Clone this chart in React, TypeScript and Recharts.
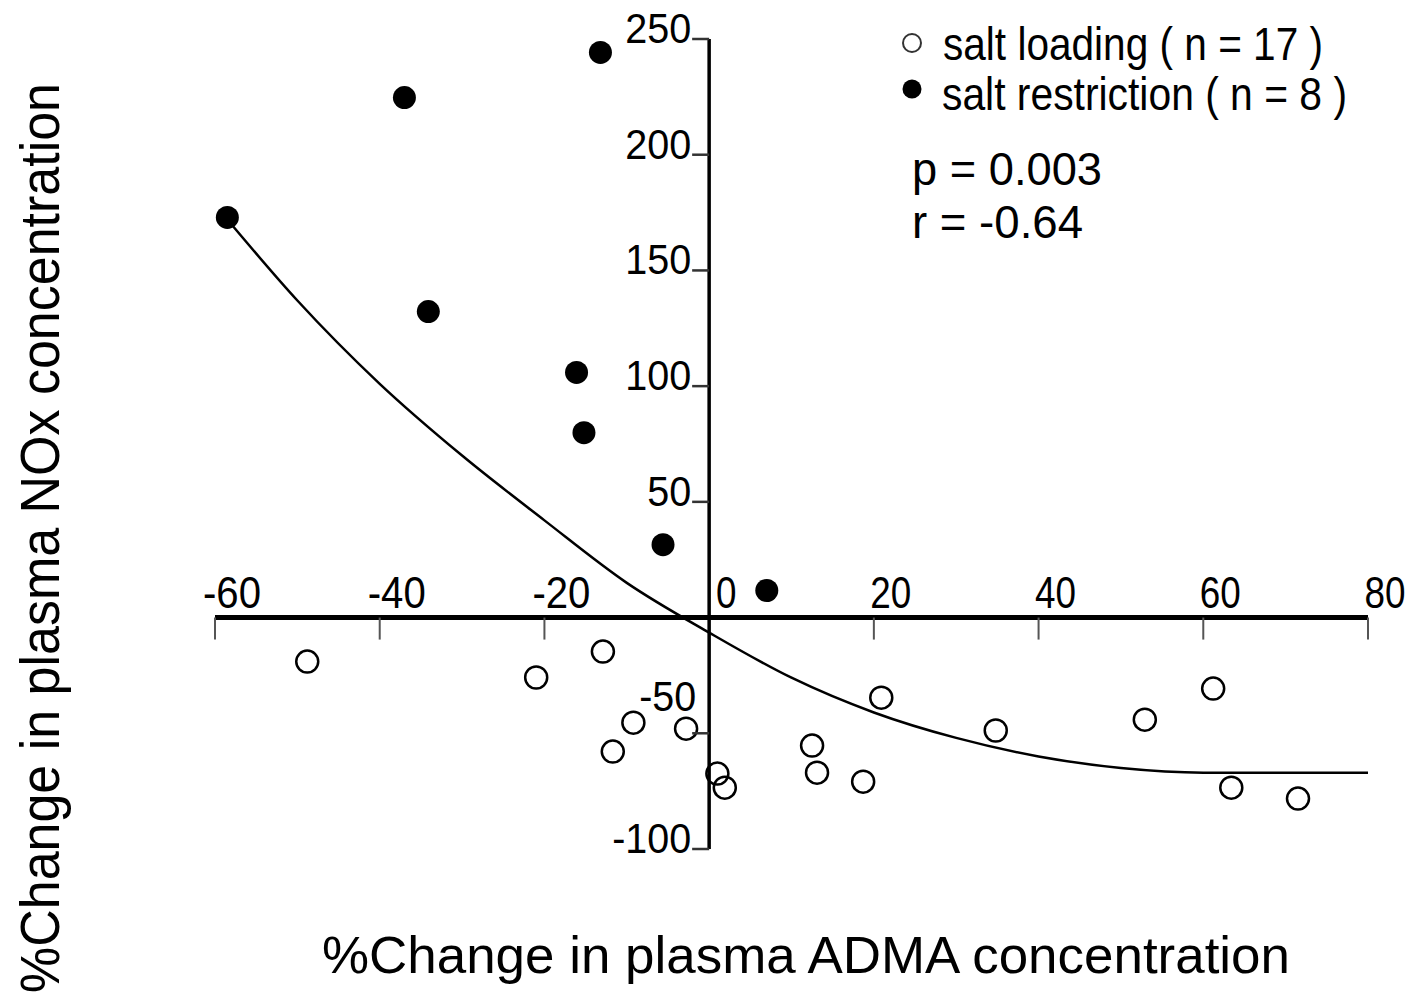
import { ComposedChart, Customized, Line, ReferenceLine, Scatter, XAxis, YAxis } from "recharts";

// salt loading (open circles)
const loadingX = [-48.8, -21.0, -12.9, -9.2, -11.7, -2.8, 1.0, 1.9, 12.5, 13.1, 18.7, 20.9, 34.8, 52.9, 61.2, 63.4, 71.5];
const loadingY = [-19.0, -25.9, -14.7, -45.4, -57.9, -48.0, -67.4, -73.5, -55.3, -67.0, -70.9, -34.6, -48.8, -44.1, -30.7, -73.5, -78.2];

// salt restriction (filled circles)
const restrictionX = [-58.5, -37.0, -13.2, -34.1, -16.1, -15.2, -5.6, 7.0];
const restrictionY = [172.9, 224.7, 244.2, 132.2, 105.9, 79.9, 31.5, 11.7];

// fitted curve
const fitX = [-58.5, -50, -40, -30, -20, -10, 0, 10, 20, 30, 40, 50, 60, 70, 80];
const fitY = [172, 137, 101, 70, 42, 15, -6.5, -26, -41, -52, -60, -65, -67, -67, -67];

const xTicks = [-60, -40, -20, 0, 20, 40, 60, 80];
const yTicks = [-100, -50, 50, 100, 150, 200, 250];

const legendLabels = ["salt loading ( n = 17 )", "salt restriction ( n = 8 )"];
const statLabels = ["p = 0.003", "r = -0.64"];
const xTitle = "%Change in plasma ADMA concentration";
const yTitle = "%Change in plasma NOx concentration";

const loadingData = loadingX.map((x, i) => ({ x, y: loadingY[i] }));
const restrictionData = restrictionX.map((x, i) => ({ x, y: restrictionY[i] }));
const fitData = fitX.map((x, i) => ({ x, y: fitY[i] }));

const W = 1414;
const H = 1006;
// axes get 1px each (a 0px axis is not drawn at all)
const M = { top: 39, right: 46, bottom: 156, left: 214 };
const PLOT_L = M.left + 1;
const PW = W - PLOT_L - M.right;
const PH = H - M.top - M.bottom - 1;
const zeroX = PLOT_L + (PW * 60) / 140;
const zeroY = M.top + (PH * 250) / 350;

const FONT = "'Liberation Sans', Arial, Helvetica, sans-serif";

// rough width of a tick label, used to squeeze the glyphs like the scan
function labelWidth(s: string, digit: number, minus: number) {
  let w = 0;
  for (const c of s) w += c === "-" ? minus : digit;
  return w;
}

function XTick(props: any) {
  const { x, payload } = props;
  const v = payload.value as number;
  const s = String(v);
  return (
    <g>
      {v !== 0 && <line x1={x} x2={x} y1={zeroY} y2={zeroY + 22} stroke="#555" strokeWidth={2} />}
      <text
        x={x + 17}
        y={zeroY - 10}
        textAnchor="middle"
        fontFamily={FONT}
        fontSize={44}
        fill="#000"
        textLength={labelWidth(s, 20.5, 17)}
        lengthAdjust="spacingAndGlyphs"
      >
        {s}
      </text>
    </g>
  );
}

function YTick(props: any) {
  const { y, payload } = props;
  const v = payload.value as number;
  const s = String(v);
  const lifted = v === -50;
  return (
    <g>
      <line x1={zeroX - 17} x2={zeroX} y1={y} y2={y} stroke="#333" strokeWidth={2.5} />
      <text
        x={lifted ? zeroX - 13 : zeroX - 18}
        y={lifted ? y - 22 : y + 4}
        textAnchor="end"
        fontFamily={FONT}
        fontSize={43}
        fill="#000"
        textLength={labelWidth(s, 22, 13)}
        lengthAdjust="spacingAndGlyphs"
      >
        {s}
      </text>
    </g>
  );
}

const openDot = (p: any) => <circle cx={p.cx} cy={p.cy} r={11} fill="none" stroke="#000" strokeWidth={2.5} />;
const filledDot = (p: any) => <circle cx={p.cx} cy={p.cy} r={11.5} fill="#000" />;

function Annotations() {
  return (
    <g fontFamily={FONT} fill="#000">
      <circle cx={912} cy={43} r={9} fill="#fff" stroke="#333" strokeWidth={2} />
      <text x={943} y={60} fontSize={46} textLength={380} lengthAdjust="spacingAndGlyphs">
        {legendLabels[0]}
      </text>
      <circle cx={912} cy={89} r={9.5} fill="#000" />
      <text x={942} y={110} fontSize={46} textLength={405} lengthAdjust="spacingAndGlyphs">
        {legendLabels[1]}
      </text>
      <text x={912} y={185} fontSize={46} textLength={190} lengthAdjust="spacingAndGlyphs">
        {statLabels[0]}
      </text>
      <text x={912} y={238} fontSize={46} textLength={171} lengthAdjust="spacingAndGlyphs">
        {statLabels[1]}
      </text>
      <text x={322} y={973} fontSize={52} textLength={968} lengthAdjust="spacingAndGlyphs">
        {xTitle}
      </text>
      <text
        transform="translate(59, 993) rotate(-90)"
        fontSize={55}
        textLength={910}
        lengthAdjust="spacingAndGlyphs"
      >
        {yTitle}
      </text>
    </g>
  );
}

export default function App() {
  return (
    <div style={{ position: "absolute", left: 0, top: 0, width: W, height: H, background: "#fff" }}>
      <ComposedChart width={W} height={H} margin={M}>
        <XAxis
          type="number"
          dataKey="x"
          domain={[-60, 80]}
          ticks={xTicks}
          interval={0}
          height={1}
          axisLine={false}
          tickLine={false}
          tick={XTick}
        />
        <YAxis
          type="number"
          dataKey="y"
          domain={[-100, 250]}
          ticks={yTicks}
          interval={0}
          width={1}
          axisLine={false}
          tickLine={false}
          tick={YTick}
        />
        <ReferenceLine y={0} stroke="#000" strokeWidth={5} />
        <ReferenceLine x={0} stroke="#000" strokeWidth={3.5} />
        <Line
          data={fitData}
          dataKey="y"
          type="monotone"
          stroke="#000"
          strokeWidth={2.5}
          dot={false}
          activeDot={false}
          isAnimationActive={false}
        />
        <Scatter data={loadingData} shape={openDot} isAnimationActive={false} />
        <Scatter data={restrictionData} shape={filledDot} isAnimationActive={false} />
        <Customized component={Annotations} />
      </ComposedChart>
    </div>
  );
}
